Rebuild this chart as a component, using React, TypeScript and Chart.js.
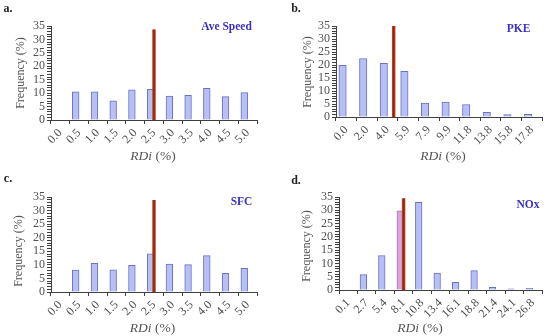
import React, { useEffect, useRef } from 'react';
import { Chart, registerables } from 'chart.js';
Chart.register(...registerables);

const catsA = ['0.0', '0.5', '1.0', '1.5', '2.0', '2.5', '3.0', '3.5', '4.0', '4.5', '5.0'];
const valsA = [0, 10.5, 10.5, 7.1, 11.2, 11.4, 8.9, 9.2, 11.8, 8.7, 10.2];
const lineA = [5.0, 33.7];

const catsB = ['0.0', '2.0', '4.0', '5.9', '7.9', '9.9', '11.8', '13.8', '15.8', '17.8'];
const valsB = [19.9, 22.5, 20.6, 17.6, 5.4, 5.7, 4.8, 1.8, 0.9, 1.0];
const lineB = [2.3, 35.6];

const catsC = ['0.0', '0.5', '1.0', '1.5', '2.0', '2.5', '3.0', '3.5', '4.0', '4.5', '5.0'];
const valsC = [0, 8.1, 10.6, 8.2, 9.8, 14.1, 10.3, 10.1, 13.4, 6.9, 8.7];
const lineC = [5.0, 33.9];

const catsD = ['0.1', '2.7', '5.4', '8.1', '10.8', '13.4', '16.1', '18.8', '21.4', '24.1', '26.8'];
const valsD = [0, 5.8, 13.0, 29.8, 33.0, 6.4, 2.9, 7.3, 1.0, 0.4, 0.6];
const lineD = [3.0, 34.5];

const yTicksMax = 35;

const SERIF = "'Liberation Serif', 'DejaVu Serif', serif";
const AXIS = '#404040';
const TICK = '#505050';
const BAR_FILL = '#b7c0f2';
const BAR_BORDER = '#6b70cc';

type PanelProps = {
  left: number; top: number;
  cats: string[]; vals: number[]; line: number[];
  plot: { l: number; t: number; r: number; b: number };
  highlight?: number;
};

const W = 275, H = 168, YW = 30, XH = 32;

function Panel({ left, top, cats, vals, line, plot, highlight }: PanelProps) {
  const ref = useRef<HTMLCanvasElement>(null);
  useEffect(() => {
    if (!ref.current) return;
    const n = cats.length;
    const fills = vals.map((_, i) => (i === highlight ? '#d9a6dc' : BAR_FILL));
    const borders = vals.map((_, i) => (i === highlight ? '#b268bf' : BAR_BORDER));
    const thickness = ((plot.r - plot.l) / n) * 0.36;
    const chart = new Chart(ref.current, {
      type: 'bar',
      data: {
        labels: cats,
        datasets: [
          {
            type: 'bar',
            data: vals,
            backgroundColor: fills,
            borderColor: borders,
            borderWidth: 1,
            barThickness: thickness,
            order: 3,
          } as any,
          {
            type: 'line',
            xAxisID: 'xl',
            data: [{ x: line[0], y: 0 }, { x: line[0], y: line[1] }],
            borderColor: '#d43a22',
            borderWidth: 3.5,
            pointRadius: 0,
            order: 2,
          } as any,
          {
            type: 'line',
            xAxisID: 'xl',
            data: [{ x: line[0], y: 0 }, { x: line[0], y: line[1] }],
            borderColor: '#6e3412',
            borderWidth: 1.5,
            pointRadius: 0,
            order: 1,
          } as any,
        ],
      },
      options: {
        animation: false,
        responsive: false,
        layout: {
          padding: {
            left: plot.l - YW,
            right: W - plot.r,
            top: plot.t,
            bottom: H - plot.b - XH,
          },
        },
        plugins: { legend: { display: false }, tooltip: { enabled: false } },
        scales: {
          x: {
            type: 'category',
            offset: true,
            afterFit: (s: any) => { s.height = XH; },
            grid: {
              display: true, drawOnChartArea: false, drawTicks: true,
              tickLength: 4, color: AXIS, offset: true,
            },
            border: { display: true, color: AXIS, width: 1 },
            ticks: {
              autoSkip: false, maxRotation: 45, minRotation: 45, padding: 2,
              color: TICK, font: { family: SERIF, size: 12 },
            },
          },
          xl: {
            type: 'linear', display: false, offset: false, min: -0.5, max: n - 0.5,
            grid: { offset: false },
          },
          y: {
            min: 0, max: yTicksMax,
            afterFit: (s: any) => { s.width = YW; },
            grid: {
              display: true, drawOnChartArea: false, drawTicks: true,
              tickLength: 4, color: AXIS,
            },
            border: { display: true, color: AXIS, width: 1 },
            ticks: {
              stepSize: 1, autoSkip: false, padding: 2,
              color: TICK, font: { family: SERIF, size: 12 },
              callback: (v: any) => (Number(v) % 5 === 0 ? String(v) : ''),
            },
          },
        },
      } as any,
    });
    return () => chart.destroy();
  }, []);
  return (
    <canvas
      ref={ref}
      width={W}
      height={H}
      style={{ position: 'absolute', left, top, width: W, height: H }}
    />
  );
}

const txt = (x: number, y: number, content: React.ReactNode, style: React.CSSProperties = {}, rotate = 0) => (
  <div
    style={{
      position: 'absolute', left: x, top: y,
      transform: `translate(-50%, -50%) rotate(${rotate}deg)`,
      fontFamily: SERIF, whiteSpace: 'nowrap', lineHeight: 1, ...style,
    }}
  >
    {content}
  </div>
);

const letterStyle: React.CSSProperties = { fontSize: 12, fontWeight: 'bold', color: '#222' };
const nameStyle: React.CSSProperties = { fontSize: 11.5, fontWeight: 'bold', color: '#3a32c0' };
const xTitleStyle: React.CSSProperties = { fontSize: 13.5, color: '#555' };
const yTitleStyle: React.CSSProperties = { fontSize: 12, color: '#555' };
const rdi = (<><i>RDi</i> (%)</>);

export default function App() {
  return (
    <div style={{ position: 'fixed', left: 0, top: 0, width: 550, height: 336, background: '#fff', overflow: 'hidden' }}>
      <Panel left={0} top={0} cats={catsA} vals={valsA} line={lineA} plot={{ l: 51, t: 26, r: 257, b: 120 }} />
      <Panel left={275} top={0} cats={catsB} vals={valsB} line={lineB} plot={{ l: 61, t: 26, r: 267, b: 117 }} />
      <Panel left={0} top={168} cats={catsC} vals={valsC} line={lineC} plot={{ l: 51, t: 29, r: 257, b: 124 }} />
      <Panel left={275} top={168} cats={catsD} vals={valsD} line={lineD} plot={{ l: 64, t: 29, r: 267, b: 122 }} highlight={3} />

      {txt(8, 8, 'a.', letterStyle)}
      {txt(296, 8, 'b.', letterStyle)}
      {txt(8, 178, 'c.', letterStyle)}
      {txt(296, 180, 'd.', letterStyle)}

      {txt(226.5, 27, 'Ave Speed', nameStyle)}
      {txt(518.5, 29, 'PKE', nameStyle)}
      {txt(241.5, 202, 'SFC', nameStyle)}
      {txt(528, 205, 'NOx', nameStyle)}

      {txt(153, 156, rdi, xTitleStyle)}
      {txt(443, 156, rdi, xTitleStyle)}
      {txt(152.5, 328, rdi, xTitleStyle)}
      {txt(420, 328, rdi, xTitleStyle)}

      {txt(20, 73, 'Frequency (%)', yTitleStyle, -90)}
      {txt(307, 72, 'Frequency (%)', yTitleStyle, -90)}
      {txt(17.5, 251, 'Frequency (%)', yTitleStyle, -90)}
      {txt(305.5, 246, 'Frequency (%)', yTitleStyle, -90)}
    </div>
  );
}
